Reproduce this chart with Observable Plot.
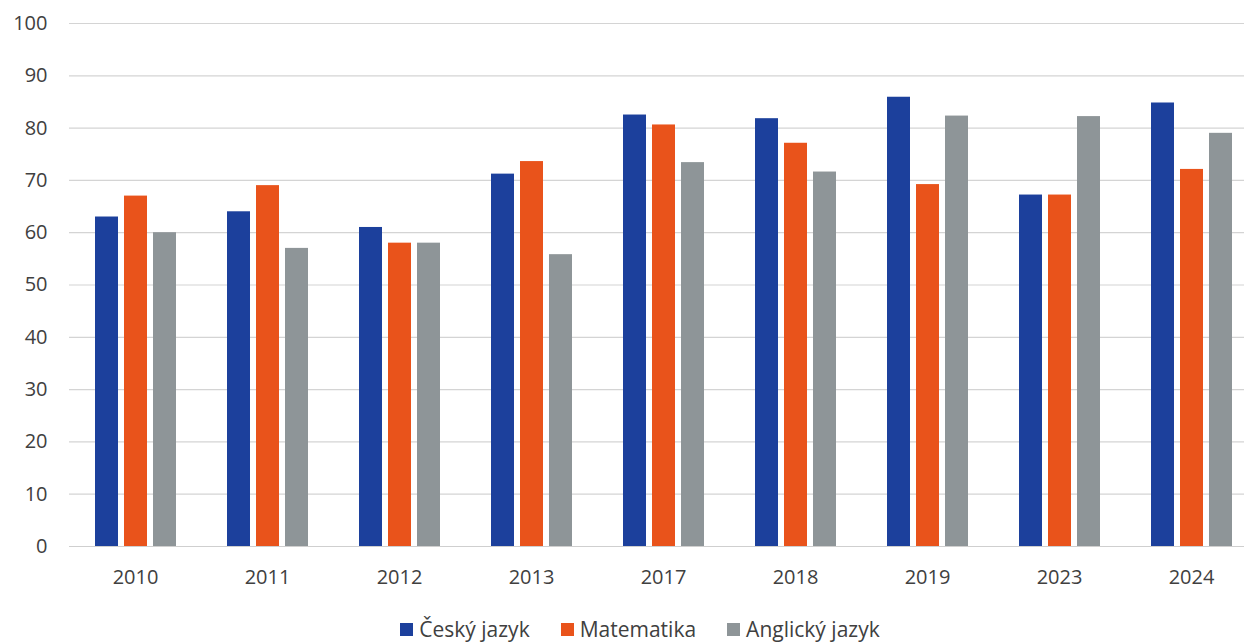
<!DOCTYPE html>
<html>
<head>
<meta charset="utf-8">
<script src="https://cdn.jsdelivr.net/npm/d3@7"></script>
<script src="https://cdn.jsdelivr.net/npm/@observablehq/plot@0.6"></script>
<style>
  html, body { margin: 0; padding: 0; background: #fff; }
  #chart { width: 1244px; height: 642px; overflow: hidden; position: relative; }
  .legend { position: absolute; top: 616px; left: 0; width: 1244px; display: flex; justify-content: center; gap: 31px;
    font-family: "Open Sans", sans-serif; font-size: 21px; line-height: 26px; color: #404040; padding-left: 36px; box-sizing: border-box; }
  .legend span.item { display: inline-flex; align-items: center; }
  .legend span.sw { display: inline-block; width: 13px; height: 13px; margin-right: 6px; }
</style>
</head>
<body>
<div id="chart"></div>
<script>
const years = ["2010","2011","2012","2013","2017","2018","2019","2023","2024"];
const subjects = ["Český jazyk","Matematika","Anglický jazyk"];
const cesky = [63, 64, 61, 71.2, 82.5, 81.8, 85.9, 67.2, 84.8];
const matematika = [67, 69, 58, 73.6, 80.6, 77.1, 69.2, 67.2, 72.1];
const anglicky = [60, 57, 58, 55.8, 73.4, 71.6, 82.3, 82.2, 79];
const colors = ["#1c409c", "#e9531b", "#8e9598"];
const yTicks = [0,10,20,30,40,50,60,70,80,90,100];

const series = [cesky, matematika, anglicky];
const data = [];
years.forEach((yr, i) => {
  subjects.forEach((s, j) => data.push({year: yr, subject: s, value: series[j][i]}));
});

const chart = Plot.plot({
  width: 1244,
  height: 600,
  marginLeft: 68,
  marginRight: -13,
  marginTop: 23,
  marginBottom: 54,
  style: {fontFamily: "Open Sans, sans-serif", fontSize: "20px", color: "#404040", background: "#fff"},
  fx: {domain: years, padding: 0, tickSize: 0, tickPadding: 23, label: null},
  x: {domain: subjects, paddingInner: 0.22, paddingOuter: 0.85, axis: null},
  y: {domain: [0, 100], ticks: yTicks, tickSize: 0, tickPadding: 22, label: null},
  color: {domain: subjects, range: colors},
  marks: [
    Plot.gridY(yTicks, {stroke: "#d4d4d4", strokeOpacity: 1, strokeWidth: 1.2}),
    Plot.barY(data, {fx: "year", x: "subject", y: "value", fill: "subject"}),
    Plot.ruleY([0], {stroke: "#cfcfcf", strokeWidth: 1.2})
  ]
});
document.getElementById("chart").appendChild(chart);

const legend = document.createElement("div");
legend.className = "legend";
subjects.forEach((s, j) => {
  const item = document.createElement("span");
  item.className = "item";
  const sw = document.createElement("span");
  sw.className = "sw";
  sw.style.background = colors[j];
  item.appendChild(sw);
  item.appendChild(document.createTextNode(s));
  legend.appendChild(item);
});
document.getElementById("chart").appendChild(legend);
</script>
</body>
</html>
